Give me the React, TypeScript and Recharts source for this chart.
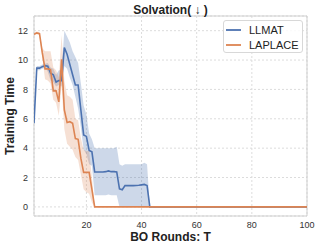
import React from "react";
import {
  ComposedChart,
  Line,
  Area,
  XAxis,
  YAxis,
  CartesianGrid,
  ReferenceArea,
} from "recharts";

const rounds = [
  1, 2, 3, 4, 5, 6, 7, 8, 9, 10, 11, 12, 13, 14, 15, 16, 17, 18, 19, 20, 21,
  22, 23, 24, 25, 26, 27, 28, 29, 30, 31, 32, 33, 34, 35, 36, 37, 38, 39, 40,
  41, 42, 43, 100,
];

const llmat = [
  5.7, 9.46, 9.45, 9.55, 9.62, 9.58, 9.1, 9.0, 8.5, 8.6, 8.6, 10.85, 10.4, 9.7,
  9.0, 8.3, 8.3, 6.6, 4.9, 4.8, 3.85, 3.75, 2.38, 2.38, 2.38, 2.38, 2.4, 2.45,
  2.4, 2.4, 2.38, 1.23, 1.17, 1.45, 1.45, 1.45, 1.45, 1.46, 1.47, 1.5, 1.53,
  1.46, 0, 0,
];
const llmatLow = [
  5.6, 9.3, 9.3, 9.4, 9.5, 9.2, 8.6, 8.5, 8.2, 8.3, 8.2, 9.6, 9.4, 8.8, 8.3,
  7.5, 6.7, 5.4, 3.9, 3.6, 2.9, 2.8, 0.8, 0.8, 0.8, 0.8, 0.8, 0.85, 0.8, 0.8,
  0.8, 0, 0, 0, 0, 0, 0, 0, 0, 0, 0, 0, 0, 0,
];
const llmatHigh = [
  5.8, 9.6, 9.6, 9.7, 9.75, 9.8, 9.5, 9.4, 9.0, 9.3, 9.3, 12.0, 11.6, 11.2,
  10.6, 10.2, 9.8, 8.4, 6.9, 6.3, 5.0, 4.6, 4.0, 4.0, 4.0, 4.0, 4.0, 4.0, 4.0,
  4.0, 4.1, 2.9, 2.8, 2.9, 2.9, 2.9, 2.9, 2.9, 2.9, 2.9, 3.0, 2.9, 0, 0,
];

const laplace = [
  11.75, 11.85, 11.8, 10.5, 9.4, 9.4, 9.35, 7.9, 7.9, 7.15, 10.05, 6.6, 5.75,
  5.8, 5.7, 4.65, 4.6, 3.3, 2.35, 2.35, 2.35, 1.2, 0, 0, 0, 0, 0, 0, 0, 0, 0, 0,
  0, 0, 0, 0, 0, 0, 0, 0, 0, 0, 0, 0,
];
const laplaceLow = [
  11.65, 11.75, 11.7, 10.2, 8.7, 8.6, 8.4, 7.3, 7.1, 6.2, 8.3, 5.3, 4.3, 4.1,
  3.9, 3.4, 3.2, 2.2, 1.2, 1.0, 0.9, 0.3, 0, 0, 0, 0, 0, 0, 0, 0, 0, 0, 0, 0, 0,
  0, 0, 0, 0, 0, 0, 0, 0, 0,
];
const laplaceHigh = [
  11.85, 11.95, 11.9, 10.8, 10.6, 10.6, 10.6, 9.5, 9.3, 8.8, 11.7, 8.6, 7.6,
  7.5, 7.3, 6.0, 5.9, 4.7, 3.9, 3.8, 3.8, 2.0, 0, 0, 0, 0, 0, 0, 0, 0, 0, 0, 0,
  0, 0, 0, 0, 0, 0, 0, 0, 0, 0, 0,
];

const xTicks = [20, 40, 60, 80, 100];
const yTicks = [0, 2, 4, 6, 8, 10, 12];
const seriesNames = ["LLMAT", "LAPLACE"];

const BLUE = "#4c72b0";
const ORANGE = "#dd8452";
const FONT = "'Liberation Sans', Arial, Helvetica, sans-serif";

const data = rounds.map((t, i) => ({
  t,
  llmat: llmat[i],
  llmatBand: [llmatLow[i], llmatHigh[i]],
  laplace: laplace[i],
  laplaceBand: [laplaceLow[i], laplaceHigh[i]],
}));

const X_MIN = 1;
const X_MAX = 100;
const Y_MIN = -0.62;
const Y_MAX = 13.0;

export default function App() {
  return (
    <div
      style={{
        position: "absolute",
        left: 0,
        top: 0,
        width: 319,
        height: 248,
        background: "#fff",
        fontFamily: FONT,
      }}
    >
      <ComposedChart
        width={319}
        height={248}
        data={data}
        margin={{ top: 16, right: 12, bottom: 2, left: 4 }}
      >
        <CartesianGrid
          stroke="#dcdcdc"
          strokeDasharray="2 2"
          verticalPoints={undefined}
        />
        <XAxis
          dataKey="t"
          type="number"
          domain={[X_MIN, X_MAX]}
          ticks={xTicks}
          height={30}
          tickSize={0}
          tickMargin={6}
          axisLine={false}
          tick={{ fontSize: 9, fill: "#333", fontFamily: FONT }}
          allowDataOverflow
        />
        <YAxis
          type="number"
          domain={[Y_MIN, Y_MAX]}
          ticks={yTicks}
          width={30}
          tickSize={0}
          tickMargin={6}
          axisLine={false}
          tick={{ fontSize: 9, fill: "#333", fontFamily: FONT }}
          allowDataOverflow
        />
        <ReferenceArea
          x1={X_MIN}
          x2={X_MAX}
          y1={Y_MIN}
          y2={Y_MAX}
          fill="none"
          stroke="#cfcfcf"
          strokeWidth={1}
          fillOpacity={0}
          ifOverflow="visible"
        />
        <Area
          dataKey="llmatBand"
          type="linear"
          stroke="none"
          fill={BLUE}
          fillOpacity={0.28}
          isAnimationActive={false}
        />
        <Line
          dataKey="llmat"
          type="linear"
          stroke={BLUE}
          strokeWidth={1.6}
          dot={false}
          isAnimationActive={false}
        />
        <Area
          dataKey="laplaceBand"
          type="linear"
          stroke="none"
          fill={ORANGE}
          fillOpacity={0.25}
          isAnimationActive={false}
        />
        <Line
          dataKey="laplace"
          type="linear"
          stroke={ORANGE}
          strokeWidth={1.6}
          dot={false}
          isAnimationActive={false}
        />
      </ComposedChart>

      <div
        style={{
          position: "absolute",
          left: 170.5,
          top: 10,
          transform: "translate(-50%, -50%)",
          fontSize: 12,
          fontWeight: "bold",
          color: "#222",
          whiteSpace: "nowrap",
        }}
      >
        Solvation( ↓ )
      </div>
      <div
        style={{
          position: "absolute",
          left: 170.5,
          top: 237,
          transform: "translate(-50%, -50%)",
          fontSize: 12,
          fontWeight: "bold",
          color: "#222",
          whiteSpace: "nowrap",
        }}
      >
        BO Rounds: T
      </div>
      <div
        style={{
          position: "absolute",
          left: 9.5,
          top: 116,
          transform: "translate(-50%, -50%) rotate(-90deg)",
          fontSize: 12,
          fontWeight: "bold",
          color: "#222",
          whiteSpace: "nowrap",
        }}
      >
        Training Time
      </div>

      <div
        style={{
          position: "absolute",
          left: 223,
          top: 20,
          width: 80,
          height: 33,
          boxSizing: "border-box",
          border: "1px solid #d8d8d8",
          borderRadius: 3,
          background: "rgba(255,255,255,0.85)",
        }}
      >
        {seriesNames.map((name, i) => (
          <div
            key={name}
            style={{
              position: "absolute",
              left: 2,
              top: 2 + i * 14.5,
              height: 14,
              display: "flex",
              alignItems: "center",
              fontSize: 11,
              color: "#222",
              whiteSpace: "nowrap",
            }}
          >
            <svg width={22} height={4} style={{ display: "block" }}>
              <line
                x1={0}
                y1={2}
                x2={15}
                y2={2}
                stroke={i === 0 ? BLUE : ORANGE}
                strokeWidth={1.8}
              />
            </svg>
            <span style={{ marginLeft: 1 }}>{name}</span>
          </div>
        ))}
      </div>
    </div>
  );
}
